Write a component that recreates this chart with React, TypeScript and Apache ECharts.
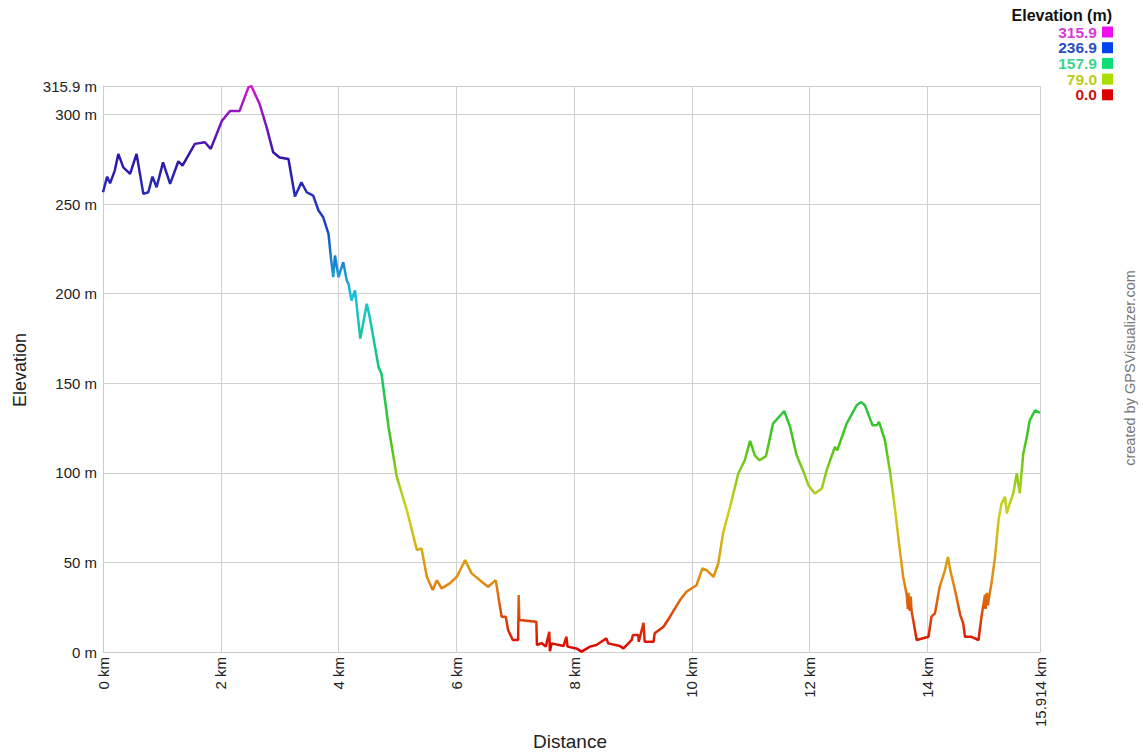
import React, { useEffect, useRef } from "react";
import * as echarts from "echarts";

const distanceKm: number[] = [
  0.0, 0.07, 0.12, 0.2, 0.26, 0.345, 0.46, 0.57, 0.685, 0.77, 0.84, 0.91, 1.02, 1.14, 1.28, 1.35, 1.56, 1.73, 1.83,
  2.02, 2.16, 2.32, 2.47, 2.52, 2.66, 2.78, 2.89, 3.0, 3.15, 3.26, 3.37, 3.46, 3.57, 3.66, 3.74, 3.83, 3.87, 3.91,
  3.94, 4.0, 4.08, 4.14, 4.17, 4.22, 4.28, 4.37, 4.48, 4.53, 4.62, 4.68, 4.73, 4.85, 4.99, 5.16, 5.33, 5.41, 5.5,
  5.6, 5.67, 5.75, 5.89, 6.01, 6.15, 6.26, 6.4, 6.54, 6.67, 6.77, 6.84, 6.88, 6.96, 7.05, 7.06, 7.07, 7.36, 7.37,
  7.45, 7.52, 7.58, 7.59, 7.62, 7.82, 7.87, 7.89, 8.04, 8.13, 8.27, 8.38, 8.55, 8.58, 8.78, 8.84, 8.98, 9.0, 9.09,
  9.1, 9.18, 9.2, 9.35, 9.37, 9.52, 9.63, 9.8, 9.91, 10.08, 10.18, 10.25, 10.37, 10.45, 10.53, 10.65, 10.79, 10.9,
  10.99, 11.07, 11.15, 11.26, 11.38, 11.57, 11.67, 11.78, 11.91, 11.98, 12.09, 12.21, 12.29, 12.43, 12.47, 12.63,
  12.8, 12.88, 12.94, 13.07, 13.14, 13.18, 13.28, 13.37, 13.45, 13.52, 13.59, 13.65, 13.67, 13.68, 13.7, 13.72,
  13.73, 13.82, 14.02, 14.07, 14.13, 14.21, 14.3, 14.35, 14.39, 14.47, 14.56, 14.61, 14.64, 14.75, 14.87, 14.92,
  14.98, 14.99, 15.01, 15.03, 15.04, 15.09, 15.15, 15.21, 15.26, 15.32, 15.35, 15.4, 15.46, 15.52, 15.57, 15.63,
  15.69, 15.74, 15.83, 15.89, 15.914,
];

const elevationM: number[] = [
  256.6, 265.3, 261.6, 268.7, 278, 270.5, 266.8, 278, 255.7, 256.6, 265.3, 259.4, 273.3, 261.3, 273.9, 271.5, 283.6,
  284.5, 280.8, 296.5, 302, 302, 315.1, 315.9, 305.8, 292.8, 278.9, 276, 275.2, 254.2, 262.2, 256.6, 254.7, 246.4,
  242.6, 233.4, 220.3, 209.2, 221.3, 209.2, 217.6, 207.4, 205.5, 196.2, 201.8, 174.9, 194.4, 186.9, 170.2, 159,
  155.3, 125.6, 97.7, 79.2, 56.9, 57.8, 42, 34.6, 40.1, 35.5, 38.3, 42, 51.3, 43.9, 40.1, 36.4, 40.1, 19.7, 19.7,
  12.3, 6.7, 6.7, 31.8, 17.8, 16.9, 3.9, 5, 3, 11.3, 0.5, 4.8, 3.3, 8.5, 3, 2, 0.2, 3, 3.9, 7.6, 4.8, 3.3, 2, 6.7,
  9.5, 9.5, 5.7, 16.3, 5.7, 5.7, 10.4, 14.1, 19.7, 29, 33.6, 37.3, 46.7, 45.7, 42, 49.4, 66.2, 81, 99.6, 107,
  117.8, 109.8, 107, 109.3, 127.5, 134.5, 125.6, 109.8, 99.6, 93.1, 88.5, 91.3, 101.4, 114.4, 112.6, 127.5, 137.7,
  139.5, 137.7, 126.5, 126.5, 128.4, 118.2, 100, 80, 60.6, 42, 32, 24, 33, 23, 31, 23.4, 6.7, 8.5, 19.7, 21.6,
  36.4, 45.7, 53.1, 45.7, 34.6, 20.6, 16, 8.5, 8.5, 6.7, 19.7, 32, 24, 33, 26, 29, 38.3, 53.1, 73.6, 82.9, 86.6,
  77.3, 82.9, 88.5, 99.6, 88.5, 110.7, 120, 129.3, 134.9, 133.9, 133.5,
];

const legendValues: string[] = ["315.9", "236.9", "157.9", "79.0", "0.0"];
const legendTextColors: string[] = ["#d63ad6", "#2a4fbf", "#3bd68a", "#b9cc1a", "#cc1111"];
const legendSwatchColors: string[] = ["#ee11ee", "#0044ee", "#11dd77", "#aadd00", "#dd0000"];
const rampColors: string[] = [
  "#dd0000", "#e08a10", "#cfd21a", "#44c41a", "#10c870", "#18c4d8", "#1a46c8", "#3014a8", "#d018d0",
];

const FONT = "'Liberation Sans', Arial, sans-serif";

export default function App() {
  const ref = useRef<HTMLDivElement>(null);
  useEffect(() => {
    document.body.style.margin = "0";
    if (!ref.current) return;
    const chart = echarts.init(ref.current, null, { renderer: "svg" });
    const data = distanceKm.map((d, i) => [d, elevationM[i]]);
    const graphic: any[] = [
      {
        type: "text",
        x: 20,
        y: 370,
        rotation: Math.PI / 2,
        style: { text: "Elevation", fontSize: 18, fontFamily: FONT, fill: "#222", align: "center", verticalAlign: "middle" },
      },
      {
        type: "text",
        x: 570,
        y: 741,
        style: { text: "Distance", fontSize: 19, fontFamily: FONT, fill: "#222", align: "center", verticalAlign: "middle" },
      },
      {
        type: "text",
        x: 1130,
        y: 368,
        rotation: Math.PI / 2,
        style: { text: "created by GPSVisualizer.com", fontSize: 14.5, fontFamily: FONT, fill: "#777", align: "center", verticalAlign: "middle" },
      },
      {
        type: "text",
        x: 1112,
        y: 15,
        style: { text: "Elevation (m)", fontSize: 16, fontWeight: "bold", fontFamily: FONT, fill: "#111", align: "right", verticalAlign: "middle" },
      },
    ];
    legendValues.forEach((v, i) => {
      const cy = 32 + i * 15.7;
      graphic.push({
        type: "text",
        x: 1097,
        y: cy,
        style: { text: v, fontSize: 15.5, fontWeight: "bold", fontFamily: FONT, fill: legendTextColors[i], align: "right", verticalAlign: "middle" },
      });
      graphic.push({
        type: "rect",
        shape: { x: 1102, y: cy - 5.5, width: 11, height: 11 },
        style: { fill: legendSwatchColors[i] },
      });
    });

    chart.setOption({
      animation: false,
      backgroundColor: "#ffffff",
      grid: { left: 103, right: 103, top: 86, bottom: 103, containLabel: false },
      xAxis: {
        type: "value",
        min: 0,
        max: 15.914,
        interval: 2,
        axisLine: { show: true, lineStyle: { color: "#cccccc" } },
        axisTick: { show: false },
        splitLine: { show: true, lineStyle: { color: "#d0d0d0", width: 1 } },
        axisLabel: {
          rotate: 90,
          showMaxLabel: true,
          showMinLabel: true,
          margin: 5,
          fontSize: 15,
          fontFamily: FONT,
          color: "#222",
          formatter: (v: number) => `${v} km`,
        },
      },
      yAxis: {
        type: "value",
        min: 0,
        max: 315.9,
        interval: 50,
        axisLine: { show: true, lineStyle: { color: "#cccccc" } },
        axisTick: { show: false },
        splitLine: { show: true, lineStyle: { color: "#d0d0d0", width: 1 } },
        axisLabel: {
          showMaxLabel: true,
          showMinLabel: true,
          margin: 6,
          fontSize: 15,
          fontFamily: FONT,
          color: "#222",
          formatter: (v: number) => `${v} m`,
        },
      },
      visualMap: {
        type: "continuous",
        show: false,
        dimension: 1,
        seriesIndex: 0,
        min: 0,
        max: 315.9,
        inRange: { color: rampColors },
      },
      series: [
        {
          type: "line",
          data,
          showSymbol: false,
          symbol: "none",
          lineStyle: { width: 2.5 },
        },
      ],
      graphic,
    });
    return () => chart.dispose();
  }, []);
  return <div ref={ref} style={{ width: 1143, height: 755 }} />;
}
